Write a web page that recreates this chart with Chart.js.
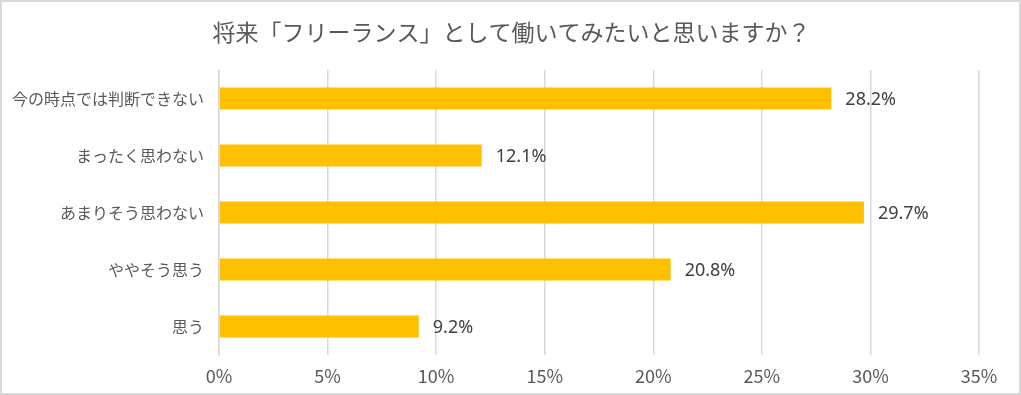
<!DOCTYPE html>
<html>
<head>
<meta charset="utf-8">
<script src="https://cdn.jsdelivr.net/npm/chart.js@4.4.1/dist/chart.umd.min.js"></script>
<style>
  html, body { margin: 0; padding: 0; background: #fff; }
  #wrap { width: 1021px; height: 395px; position: relative; }
</style>
</head>
<body>
<div id="wrap"><canvas id="myChart"></canvas></div>
<script>
var titleText = '将来「フリーランス」として働いてみたいと思いますか？';
var categories = ['今の時点では判断できない', 'まったく思わない', 'あまりそう思わない', 'ややそう思う', '思う'];
var values = [28.2, 12.1, 29.7, 20.8, 9.2];
var tickMax = 35;
var tickStep = 5;

// frame, white background and a title centred on the whole canvas
var framePlugin = {
  id: 'frame',
  beforeDraw: function (chart) {
    var ctx = chart.ctx;
    ctx.save();
    ctx.fillStyle = '#fff';
    ctx.fillRect(0, 0, chart.width, chart.height);
    ctx.strokeStyle = '#d9d9d9';
    ctx.lineWidth = 2;
    ctx.strokeRect(1, 1, chart.width - 2, chart.height - 2);
    ctx.fillStyle = '#595959';
    ctx.font = '23px "Noto Sans CJK JP", sans-serif';
    ctx.textAlign = 'center';
    ctx.textBaseline = 'middle';
    ctx.fillText(titleText, chart.width / 2 + 1, 32);
    ctx.restore();
  }
};

// value labels right of each bar
var valueLabels = {
  id: 'valueLabels',
  afterDatasetsDraw: function (chart) {
    var ctx = chart.ctx;
    var meta = chart.getDatasetMeta(0);
    ctx.save();
    ctx.fillStyle = '#404040';
    ctx.font = '18px "Noto Sans", sans-serif';
    ctx.textAlign = 'left';
    ctx.textBaseline = 'middle';
    meta.data.forEach(function (bar, i) {
      ctx.fillText(values[i].toFixed(1) + '%', bar.x + 14, bar.y + 1);
    });
    ctx.restore();
  }
};

var myChart = new Chart(document.getElementById('myChart'), {
  type: 'bar',
  data: {
    labels: categories,
    datasets: [{
      data: values,
      backgroundColor: '#FFC000',
      borderWidth: 0,
      barPercentage: 0.39,
      categoryPercentage: 1.0
    }]
  },
  options: {
    indexAxis: 'y',
    responsive: true,
    maintainAspectRatio: false,
    animation: false,
    events: [],
    layout: { padding: { left: 0, right: 42, top: 70, bottom: 0 } },
    plugins: {
      legend: { display: false },
      tooltip: { enabled: false },
      title: { display: false }
    },
    scales: {
      x: {
        min: 0,
        max: tickMax,
        ticks: {
          stepSize: tickStep,
          color: '#595959',
          font: { family: '"Noto Sans CJK JP", sans-serif', size: 18 },
          padding: 10,
          callback: function (v) { return v + '%'; }
        },
        grid: { color: '#d9d9d9', lineWidth: 1.5, drawTicks: false },
        border: { display: false },
        afterFit: function (scale) { scale.height = 40; }
      },
      y: {
        ticks: {
          color: '#595959',
          font: { family: '"Noto Sans CJK JP", sans-serif', size: 16 },
          padding: 15
        },
        grid: { display: false, drawTicks: false },
        border: { display: true, color: '#d9d9d9', width: 1.5 },
        afterFit: function (scale) { scale.width = 219; }
      }
    }
  },
  plugins: [framePlugin, valueLabels]
});
</script>
</body>
</html>
